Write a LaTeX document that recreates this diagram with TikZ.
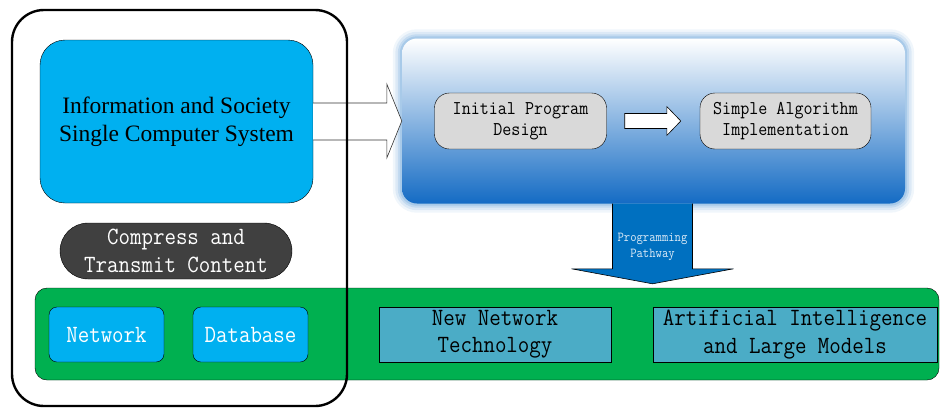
\documentclass[tikz,border=0pt]{standalone}
\usepackage{fontspec}
\setmainfont{Liberation Serif}
\newfontfamily\simmono[FakeStretch=0.9]{Latin Modern Mono}
\usetikzlibrary{calc,backgrounds}
\definecolor{skyfill}{HTML}{00B0F0}
\definecolor{barfill}{HTML}{00B050}
\definecolor{darkfill}{HTML}{404040}
\definecolor{tealfill}{HTML}{4BACC6}
\definecolor{greyfill}{HTML}{D9D9D9}
\definecolor{pathblue}{HTML}{0070C0}
\definecolor{gradlow}{HTML}{146BC4}
\definecolor{gradmid}{HTML}{A9B9DF}
\definecolor{glowblue}{HTML}{9DC3E6}
\definecolor{paletext}{HTML}{DDEBF7}
\begin{document}
\begin{tikzpicture}[x=1pt,y=-1pt,
  box/.style={draw,rectangle,align=center,inner sep=0pt},
  bigmono/.style={font=\simmono\fontsize{24.8}{27.5}\selectfont},
  midmono/.style={font=\simmono\fontsize{19.5}{21}\selectfont},
  tinymono/.style={font=\simmono\fontsize{13.7}{16}\selectfont},
  hollow/.style={draw,fill=white,line width=0.6pt}]
\useasboundingbox (0,0) rectangle (940,408);
% bottom bar
\node[box,fill=barfill,rounded corners=12pt,minimum width=904pt,minimum height=92pt] (bar) at (487,334) {};
\node[box,fill=skyfill,rounded corners=8pt,minimum width=115pt,minimum height=55pt,bigmono,text=white] (net) at (106.5,334.5) {Network};
\node[box,fill=skyfill,rounded corners=8pt,minimum width=115pt,minimum height=55pt,bigmono,text=white] (db) at (250.5,334.5) {Database};
\node[box,fill=tealfill,minimum width=232pt,minimum height=55pt,bigmono] (newnet) at (495,334.5) {New Network\\Technology};
\node[box,fill=tealfill,minimum width=284pt,minimum height=55pt,bigmono] (ai) at (795,334.5) {Artificial Intelligence\\and Large Models};
% left column
\node[box,fill=skyfill,rounded corners=25pt,minimum width=273pt,minimum height=163pt,font=\fontsize{23.5}{28}\selectfont] (sys) at (176.5,121.5) {Information and Society\\Single Computer System};
\node[box,fill=darkfill,rounded corners=28pt,minimum width=232pt,minimum height=56pt,bigmono,text=white] (comp) at (176,251) {Compress and\\Transmit Content};
% programming box
\node[box,draw=none,rounded corners=15pt,minimum width=503pt,minimum height=165pt,top color=white,middle color=gradmid,bottom color=gradlow] (prog) at (653.5,121) {};
\begin{scope}[on background layer]
\foreach \w/\o in {18/0.15,13/0.25,8/0.4,4/0.7}
  \draw[glowblue,line width=\w pt,opacity=\o,rounded corners=15pt] (prog.south west) rectangle (prog.north east);
\end{scope}
\node[box,fill=greyfill,rounded corners=15pt,minimum width=172pt,minimum height=56pt,midmono] (init) at (520.5,121) {Initial Program\\Design};
\node[box,fill=greyfill,rounded corners=15pt,minimum width=171pt,minimum height=56pt,midmono] (algo) at (785.5,121) {Simple Algorithm\\Implementation};
% arrows
\draw[hollow,draw=black!80] ($(sys.east)+(0,-18.5)$) -| ($(prog.west)+(-15,-37)$) -- (prog.west) -- ($(prog.west)+(-15,37)$) |- ($(sys.east)+(0,18.5)$);
\coordinate (a) at ($(init.east)+(18,0)$);
\coordinate (b) at ($(algo.west)+(-19,0)$);
\draw[hollow] ($(a)+(0,-7.5)$) -- ($(b)+(-14,-7.5)$) -- ($(b)+(-14,-14.5)$) -- (b) -- ($(b)+(-14,14.5)$) -- ($(b)+(-14,7.5)$) -- ($(a)+(0,7.5)$) -- cycle;
\coordinate (tip) at ($(prog.south |- bar.north)+(-1,-4)$);
\draw[fill=pathblue,line width=0.6pt] ($(prog.south)+(-41,0)$) |- ($(tip)+(-81,-15)$) -- (tip) -- ($(tip)+(81,-15)$) -| ($(prog.south)+(39,0)$);
\node[tinymono,text=paletext,align=center] (path) at ($(prog.south)+(-1,43)$) {Programming\\Pathway};
% outer frame
\node[draw,line width=2.4pt,rounded corners=32pt,minimum width=335pt,minimum height=396pt] (frame) at (179.5,208) {};
\end{tikzpicture}
\end{document}
